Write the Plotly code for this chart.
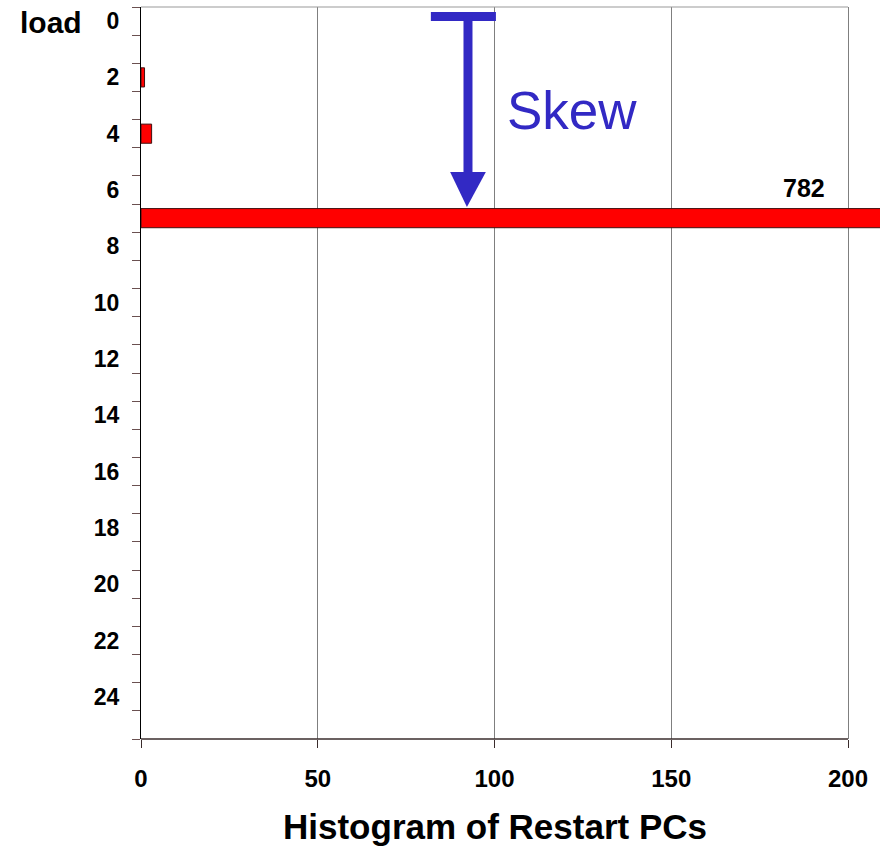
import plotly.graph_objects as go

# ---- data ----
load_levels = list(range(26))                     # categories 0..25
restart_counts = [0, 0, 1, 0, 3, 0, 0, 782] + [0] * 18
y_tick_vals = list(range(0, 25, 2))
y_tick_text = [str(v) for v in y_tick_vals]
x_tick_vals = [0, 50, 100, 150, 200]
x_tick_text = [str(v) for v in x_tick_vals]
peak_label = "782"
peak_level = 7
peak_value_display_cap = 200
skew_text = "Skew"
x_title = "Histogram of Restart PCs"
y_title = "load"

# ---- style ----
FONT = "Liberation Sans, Arial, sans-serif"
BLUE = "#3229C4"
DARK = "#3a2c2c"
x_max = 209.05

# arrow decoration (data coordinates)
arrow_x = 92.5
arrow_top = -0.16
arrow_base = 5.36
arrow_tip = 6.6
tbar_x0, tbar_x1 = 82.0, 100.4
head_half = 5.05

fig = go.Figure()
fig.add_trace(go.Bar(
    y=load_levels,
    x=[v if v else None for v in restart_counts],   # empty bins drawn as nothing
    orientation="h",
    width=0.68,
    marker=dict(color="#FF0000", line=dict(color="#401010", width=1)),
    hoverinfo="x+y",
))

fig.update_layout(
    width=880, height=846,
    margin=dict(l=141, r=0, t=7, b=107, pad=0),
    plot_bgcolor="white", paper_bgcolor="white",
    showlegend=False,
    bargap=0.32,
    font=dict(family=FONT, color="black"),
    xaxis=dict(
        range=[0, x_max], showline=False, zeroline=False,
        showgrid=True, gridcolor="#7f7f7f", gridwidth=1,
        tickmode="array", tickvals=x_tick_vals, ticktext=x_tick_text,
        ticks="outside", ticklen=8, tickcolor=DARK, tickwidth=1,
        tickfont=dict(family=FONT, size=24, weight="bold", color="black"),
        ticklabelstandoff=10,
    ),
    yaxis=dict(
        range=[25.5, -0.5], showline=True, linecolor="black", linewidth=1,
        zeroline=False, showgrid=False,
        tickmode="array", tickvals=y_tick_vals, ticktext=y_tick_text,
        ticks="", ticklabelstandoff=16,
        tickfont=dict(family=FONT, size=23, weight="bold", color="black"),
        minor=dict(tickmode="array",
                   tickvals=[v - 0.5 for v in load_levels] + [load_levels[-1] + 0.5],
                   ticks="outside", ticklen=8, tickcolor="#6a5050", showgrid=False),
    ),
)

shapes = [
    # top border up to 200
    dict(type="line", xref="x", yref="paper", x0=0, x1=200, y0=1, y1=1,
         line=dict(color="#999999", width=1)),
    # bottom axis line up to 200
    dict(type="line", xref="x", yref="paper", x0=0, x1=200, y0=0, y1=0,
         line=dict(color=DARK, width=1.5)),
    # skew arrow: T bar
    dict(type="line", xref="x", yref="y", x0=tbar_x0, x1=tbar_x1, y0=arrow_top, y1=arrow_top,
         line=dict(color=BLUE, width=9)),
    # shaft
    dict(type="line", xref="x", yref="y", x0=arrow_x, x1=arrow_x, y0=arrow_top, y1=arrow_base,
         line=dict(color=BLUE, width=9)),
    # head
    dict(type="path", xref="x", yref="y",
         path=f"M {arrow_x-head_half},{arrow_base} L {arrow_x+head_half},{arrow_base} L {arrow_x-0.3},{arrow_tip} Z",
         fillcolor=BLUE, line=dict(color=BLUE, width=0)),
]
fig.update_layout(shapes=shapes)

fig.add_annotation(x=peak_value_display_cap, y=peak_level, xref="x", yref="y",
                   text=peak_label, showarrow=False, xanchor="right", yanchor="middle",
                   xshift=-21, yshift=30,
                   font=dict(family=FONT, size=25, weight="bold", color="black"))
fig.add_annotation(x=121.9, y=3.16, xref="x", yref="y", text=skew_text, showarrow=False,
                   xanchor="center", yanchor="middle",
                   font=dict(family=FONT, size=53, color=BLUE))
fig.add_annotation(x=-0.1218, y=0.9795, xref="paper", yref="paper", text=y_title,
                   showarrow=False, xanchor="center", yanchor="middle",
                   font=dict(family=FONT, size=30, weight="bold", color="black"))
fig.add_annotation(x=100, y=-0.1189, xref="x", yref="paper", text=x_title,
                   showarrow=False, xanchor="center", yanchor="middle",
                   font=dict(family=FONT, size=35, weight="bold", color="black"))

fig.write_html(
    "out.html",
    config={"displayModeBar": False},
    post_script="document.body.style.margin='0';document.body.style.overflow='hidden';",
)
